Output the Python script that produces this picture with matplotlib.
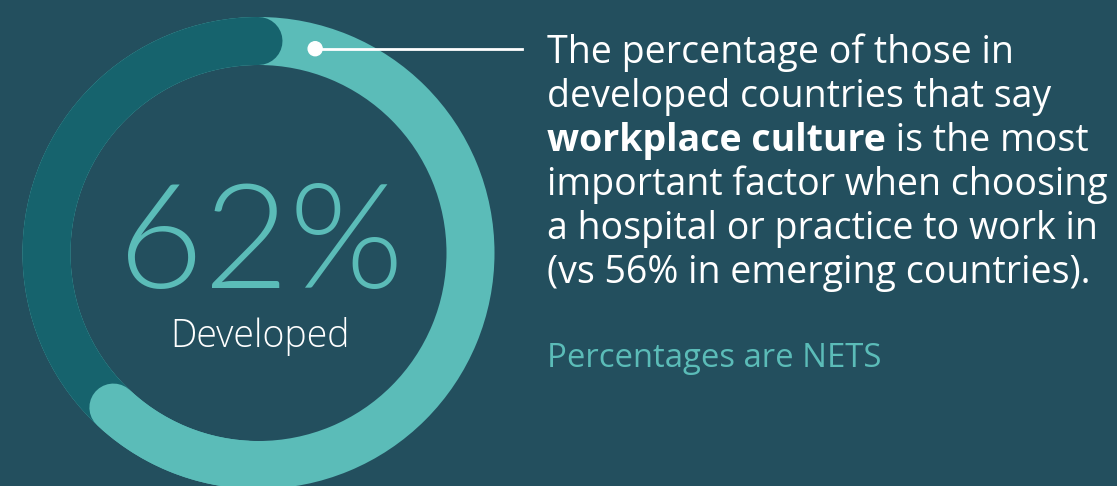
import matplotlib
matplotlib.use("Agg")
import matplotlib.pyplot as plt
from matplotlib import font_manager as fm
from matplotlib.patches import Circle, Wedge
import numpy as np

# --- data ---
value = 62            # % developed
label = "Developed"
compare = 56          # % emerging
body = [
    [("The percentage of those in", False)],
    [("developed countries that say", False)],
    [("workplace culture", True), (" is the most", False)],
    [("important factor when choosing", False)],
    [("a hospital or practice to work in", False)],
    [(f"(vs {compare}% in emerging countries).", False)],
]
note = "Percentages are NETS"

BG = "#234F5E"
DARK = "#16636D"
LIGHT = "#5BBCB8"


def pick_font(families, lo, hi):
    # installed face in the weight range (no condensed), else plain family
    for fam in families:
        for f in fm.fontManager.ttflist:
            w = f.weight if isinstance(f.weight, int) else fm.weight_dict.get(f.weight, 400)
            if (f.name == fam and lo <= w <= hi and f.style == "normal"
                    and f.stretch in ("normal", 500)
                    and "ondensed" not in f.fname):
                return fm.FontProperties(fname=f.fname)
    return fm.FontProperties(family=families[0])


thin = pick_font(["Lato", "Open Sans", "Roboto", "Inter"], 300, 300)
light = pick_font(["Open Sans", "Lato", "Roboto"], 300, 300)
regular = pick_font(["Open Sans", "Lato"], 400, 400)
bold = pick_font(["Open Sans", "Lato"], 700, 700)

fig = plt.figure(figsize=(11.17, 4.86), dpi=100, facecolor=BG)
ax = fig.add_axes([0, 0, 1, 1])
ax.set_facecolor(BG)
ax.set_xlim(0, 1117)
ax.set_ylim(486, 0)
ax.axis("off")

# ring geometry (pixels)
cx, cy, r, w = 258.5, 253, 212, 48
lw = w * 0.72


def arc(a0, a1, color, z):
    t = np.radians(np.linspace(a0, a1, 400))
    ax.plot(cx + r * np.cos(t), cy - r * np.sin(t), color=color, lw=lw,
            solid_capstyle="round", zorder=z)


end = 90 - 360 * value / 100
ax.add_patch(Wedge((cx, cy), r + w / 2, 0, 360, width=w, color=LIGHT, lw=0, zorder=1))
arc(90, 360 + end, DARK, 2)
arc(end + 40, end, LIGHT, 3)

# connector dot + line
da = np.radians(74.5)
dx, dy = cx + r * np.cos(da), cy - r * np.sin(da)
ax.plot([dx, 522], [dy, dy], color="white", lw=2, zorder=4)
ax.add_patch(Circle((dx, dy), 7, color="white", zorder=5))

# centre labels
ax.text(cx + 2, 288, f"{value}%", fontproperties=thin, fontsize=106,
        color=LIGHT, ha="center", va="baseline")
ax.text(cx + 2, 347, label, fontproperties=light, fontsize=27,
        color="white", ha="center", va="baseline")

# body text
x0, y0, step = 547, 63, 44
for i, segs in enumerate(body):
    prev = None
    for txt, b in segs:
        fp = bold if b else regular
        if prev is None:
            prev = ax.text(x0, y0 + i * step, txt, fontproperties=fp, fontsize=27,
                           color="white", ha="left", va="baseline")
        else:
            prev = ax.annotate(txt, xy=(1, 0), xycoords=prev, fontproperties=fp,
                               fontsize=27, color="white", ha="left", va="bottom")

ax.text(x0, 367, note, fontproperties=regular, fontsize=23.7, color=LIGHT,
        ha="left", va="baseline")

fig.savefig("out.png", dpi=100, facecolor=BG)
